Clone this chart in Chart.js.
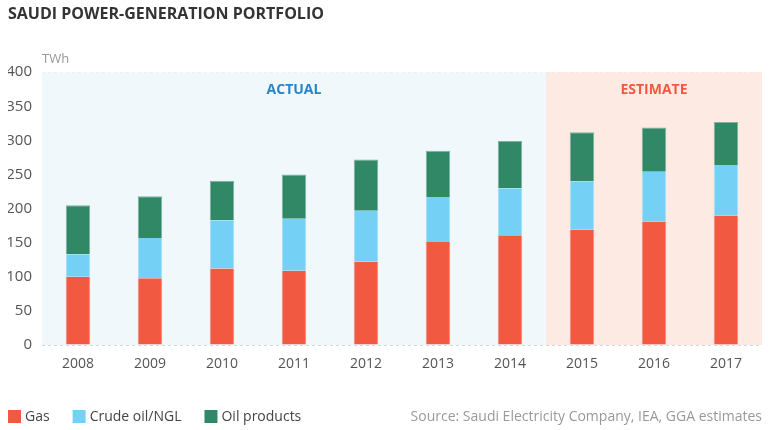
<!DOCTYPE html>
<html>
<head>
<meta charset="utf-8">
<script src="https://cdn.jsdelivr.net/npm/chart.js@4"></script>
<style>
  html, body { margin: 0; padding: 0; background: #fff; }
  #wrap { width: 770px; height: 430px; position: relative; }
</style>
</head>
<body>
<div id="wrap"><canvas id="chart" width="770" height="430"></canvas></div>
<script>
const years = ["2008", "2009", "2010", "2011", "2012", "2013", "2014", "2015", "2016", "2017"];
const gas = [100, 98, 112, 109, 122, 151, 161, 169, 181, 190];
const crudeOil = [33, 59, 71, 76, 75, 66, 69, 71, 73, 74];
const oilProducts = [72, 61, 58, 65, 75, 68, 69, 72, 65, 63];
const yTicks = [0, 50, 100, 150, 200, 250, 300, 350, 400];
const estimateYears = ["2015", "2016", "2017"];

const FONT = "'Open Sans', 'Noto Sans', sans-serif";

// shaded bands + labels behind bars, legend and extra texts on top
const bands = {
  id: "bands",
  beforeDatasetsDraw(chart) {
    const { ctx, chartArea, scales } = chart;
    const x = scales.x;
    const step = x.getPixelForValue(1) - x.getPixelForValue(0);
    const split = x.getPixelForValue(years.indexOf(estimateYears[0])) - step / 2;
    ctx.save();
    ctx.fillStyle = "#f0f8fc";
    ctx.fillRect(chartArea.left, chartArea.top, split - chartArea.left, chartArea.bottom - chartArea.top);
    ctx.fillStyle = "#fdebe3";
    ctx.fillRect(split, chartArea.top, chartArea.right - split, chartArea.bottom - chartArea.top);
    ctx.font = "bold 14px " + FONT;
    ctx.textAlign = "center";
    ctx.textBaseline = "middle";
    ctx.fillStyle = "#2a85c8";
    ctx.fillText("ACTUAL", (chartArea.left + split) / 2, chartArea.top + 18);
    ctx.fillStyle = "#f15a40";
    ctx.fillText("ESTIMATE", (split + chartArea.right) / 2, chartArea.top + 18);
    ctx.restore();
  },
  afterDraw(chart) {
    const { ctx, chartArea } = chart;
    ctx.save();
    ctx.font = "13px " + FONT;
    ctx.fillStyle = "#999";
    ctx.textAlign = "left";
    ctx.textBaseline = "middle";
    ctx.fillText("TWh", chartArea.left, chartArea.top - 13);

    // legend
    ctx.font = "14px " + FONT;
    let lx = 8;
    chart.data.datasets.forEach(ds => {
      ctx.fillStyle = ds.backgroundColor;
      ctx.fillRect(lx, 410, 13, 13);
      ctx.fillStyle = "#444";
      ctx.fillText(ds.label, lx + 17, 417);
      lx += 17 + ctx.measureText(ds.label).width + 23;
    });

    ctx.fillStyle = "#999";
    ctx.textAlign = "right";
    ctx.fillText("Source: Saudi Electricity Company, IEA, GGA estimates", 762, 417);
    ctx.restore();
  }
};

new Chart(document.getElementById("chart"), {
  type: "bar",
  data: {
    labels: years,
    datasets: [
      { label: "Gas", data: gas, backgroundColor: "#f15a40", borderColor: "#f58a78", borderWidth: { left: 1, right: 1 } },
      { label: "Crude oil/NGL", data: crudeOil, backgroundColor: "#75d0f5", borderColor: "#a4e0f8", borderWidth: { left: 1, right: 1 } },
      { label: "Oil products", data: oilProducts, backgroundColor: "#318866", borderColor: "#7fb19c", borderWidth: { left: 1, right: 1, top: 1 } }
    ]
  },
  options: {
    responsive: false,
    animation: false,
    layout: { padding: { left: 8, right: 8, top: 0, bottom: 44 } },
    datasets: { bar: { barPercentage: 0.34, categoryPercentage: 1 } },
    plugins: {
      title: {
        display: true,
        text: "SAUDI POWER-GENERATION PORTFOLIO",
        align: "start",
        color: "#333",
        font: { family: FONT, size: 16, weight: "bold" },
        padding: { top: 5, bottom: 48 }
      },
      legend: { display: false },
      tooltip: { enabled: false }
    },
    scales: {
      x: {
        stacked: true,
        grid: { display: false },
        border: { display: false },
        ticks: { color: "#555", font: { family: FONT, size: 14 }, padding: 3 },
        afterFit(scale) { scale.height = 41; }
      },
      y: {
        stacked: true,
        min: 0,
        max: 400,
        afterBuildTicks(scale) { scale.ticks = yTicks.map(v => ({ value: v })); },
        grid: { color: "#cfd8dc", drawTicks: false },
        border: { display: false, dash: [3, 3] },
        ticks: { color: "#555", font: { family: FONT, size: 15 }, padding: 10 },
        afterFit(scale) { scale.width = 34; }
      }
    }
  },
  plugins: [bands]
});
</script>
</body>
</html>
